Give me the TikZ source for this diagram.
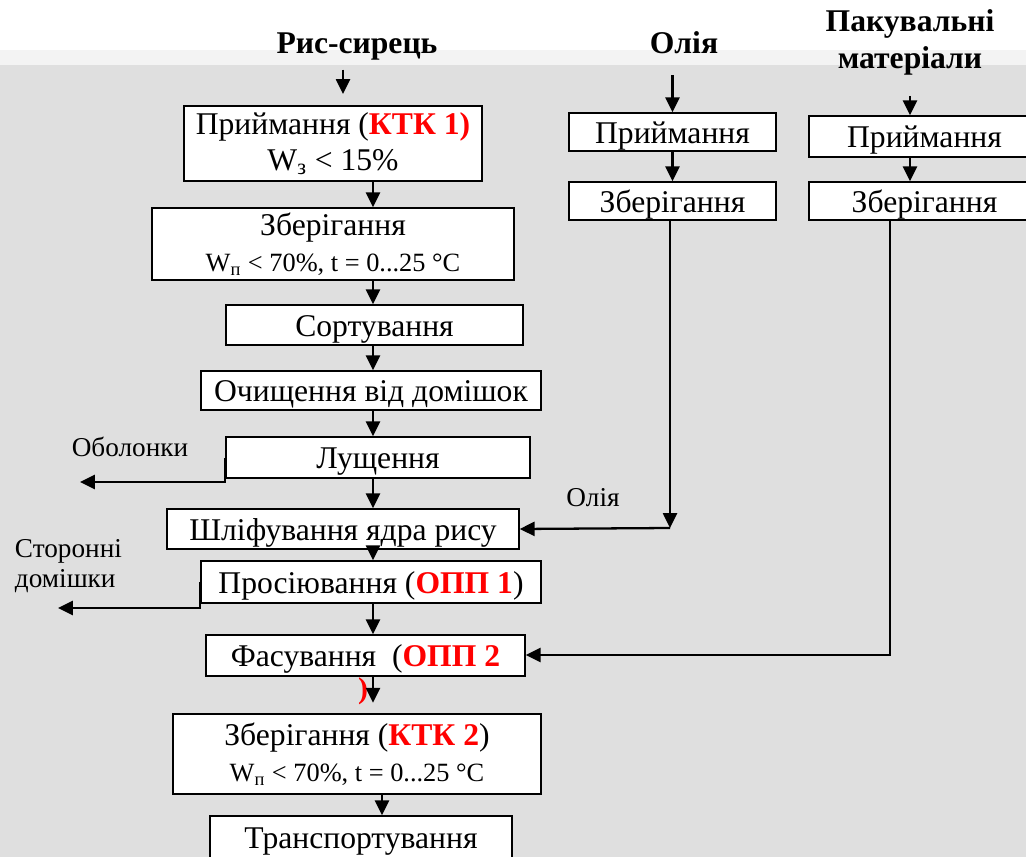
\documentclass[tikz,border=0pt]{standalone}
\usepackage{fontspec}
\setmainfont{Liberation Serif}
\usetikzlibrary{arrows.meta}

\newcommand{\ctrl}[1]{\textcolor{cCtrl}{\textbf{#1}}}
\newcommand{\cond}[1]{{\fontsize{15}{18}\selectfont #1}}

\begin{document}
\begin{tikzpicture}[
  x=0.02cm, y=-0.02cm,
  >={Triangle[length=8.5pt, width=8pt]},
  line width=1.3pt,
  stepbox/.style={
    draw, fill=white, line width=0.8pt, inner sep=1pt,
    align=center, font=\fontsize{18}{20.5}\selectfont
  },
  onebox/.style={stepbox, text height=13pt, text depth=0pt},
  head/.style={font=\fontsize{18}{21}\selectfont\bfseries, align=center},
  side/.style={font=\fontsize{15.5}{17}\selectfont, align=left}
]

  % Colors
  \definecolor{cBack}{RGB}{223,223,223}  % slide background
  \definecolor{cBand}{RGB}{243,243,243}  % light band under the top
  \definecolor{cCtrl}{RGB}{255,0,0}      % control points

  % Background
  \useasboundingbox (0,0) rectangle (1026,857);
  \clip (0,0) rectangle (1026,857);
  \fill[cBand] (0,50) rectangle (1026,65);
  \fill[cBack] (0,65) rectangle (1026,857);

  % --- TITLES ---
  \node[head] (rawTitle)  at (357,47) {Рис-сирець};
  \node[head] (oilTitle)  at (684,43) {Олія};
  \node[head] (packTitle) at (910,42) {Пакувальні\\матеріали};

  % --- MAIN LINE ---
  \node[stepbox, minimum width=5.96cm, minimum height=1.5cm] (rcv) at (333,143.5)
    {Приймання (\ctrl{КТК 1)}\\W\textsubscript{з} < 15\%};
  \node[stepbox, minimum width=7.24cm, minimum height=1.44cm] (store1) at (333,244)
    {Зберігання\\\cond{W\textsubscript{п} < 70\%, t = 0...25 °C}};
  \node[onebox, minimum width=5.94cm, minimum height=0.8cm] (sort) at (374.5,325) {Сортування};
  \node[onebox, minimum width=6.8cm, minimum height=0.78cm] (clean) at (371,390.5) {Очищення від домішок};
  \node[onebox, minimum width=6.08cm, minimum height=0.82cm] (hull) at (378,457.5) {Лущення};
  \node[onebox, minimum width=7.04cm, minimum height=0.8cm] (grind) at (343,529) {Шліфування ядра рису};
  \node[onebox, minimum width=6.8cm, minimum height=0.84cm] (sieve) at (371,582)
    {Просіювання (\ctrl{ОПП 1})};
  \node[onebox, minimum width=6.38cm, minimum height=0.82cm,
    label={[cCtrl, font=\fontsize{17}{20}\selectfont\bfseries, inner sep=0pt, xshift=-0.05cm]below:)}] (pack) at (365.5,655.5)
    {Фасування~ (\ctrl{ОПП 2}};
  \node[stepbox, minimum width=7.36cm, minimum height=1.6cm] (store2) at (357,754)
    {Зберігання (\ctrl{КТК 2})\\\cond{W\textsubscript{п} < 70\%, t = 0...25 °C}};
  \node[onebox, minimum width=6.04cm, minimum height=1.0cm, text depth=4pt] (transp) at (361,841) {Транспортування};

  % --- OIL LINE ---
  \node[onebox, minimum width=4.14cm, minimum height=0.76cm] (oilRcv)   at (672.5,132) {Приймання};
  \node[onebox, minimum width=4.14cm, minimum height=0.76cm] (oilStore) at (672.5,201) {Зберігання};

  % --- PACKAGING LINE ---
  \node[onebox, minimum width=4.62cm, minimum height=0.82cm] (packRcv)   at (924.5,136.5) {Приймання};
  \node[onebox, minimum width=4.62cm, minimum height=0.76cm] (packStore) at (924.5,201) {Зберігання};

  % --- SIDE LABELS ---
  \node[side] (husksLbl)   at (130,447) {Оболонки};
  \node[side, anchor=west] (foreignLbl) at (8,566) {Сторонні\\домішки};
  \node[side] (oilLbl)     at (593,498) {Олія};

  % --- HELPER POINTS ---
  \coordinate (spine)    at (373,0);
  \coordinate (lastCol)  at (382,0);
  \coordinate (rawIn)    at (343,94);
  \coordinate (packCol)  at (910,0);
  \coordinate (oilTurn)  at (670,528);
  \coordinate (packTurn) at (890,655);
  \coordinate (hullOut)  at (80,482);
  \coordinate (sieveOut) at (58,608);

  % --- ARROWS ---
  \draw[->] (rawTitle.south -| rawIn) ++(0,2) -- (rawIn);
  \foreach \a/\b in {rcv/store1, store1/sort, sort/clean, clean/hull, hull/grind, grind/sieve, sieve/pack}
    \draw[->] (\a.south -| spine) -- (\b.north -| spine);
  \draw[->, shorten >=6pt] (pack.south -| spine) -- (store2.north -| spine);
  \draw[->] (store2.south -| lastCol) -- (transp.north -| lastCol);

  \draw[->] (oilTitle.south -| oilRcv.north) ++(0,14) -- (oilRcv.north);
  \draw[->] (oilRcv) -- (oilStore);
  \draw[->] (oilStore.south -| oilTurn) -- (oilTurn);
  \draw[->] (oilTurn) -- (grind.east);

  \draw[->] (packTitle.south -| packCol) ++(0,14) -- (packRcv.north -| packCol);
  \draw[->] (packRcv.south -| packCol) -- (packStore.north -| packCol);
  \draw[->] (packStore.south -| packTurn) -- (packTurn) -- (pack.east |- packTurn);

  \draw[->] (hull.west) -- (hull.west |- hullOut) -- (hullOut);
  \draw[->] (sieve.west) -- (sieve.west |- sieveOut) -- (sieveOut);

\end{tikzpicture}
\end{document}
